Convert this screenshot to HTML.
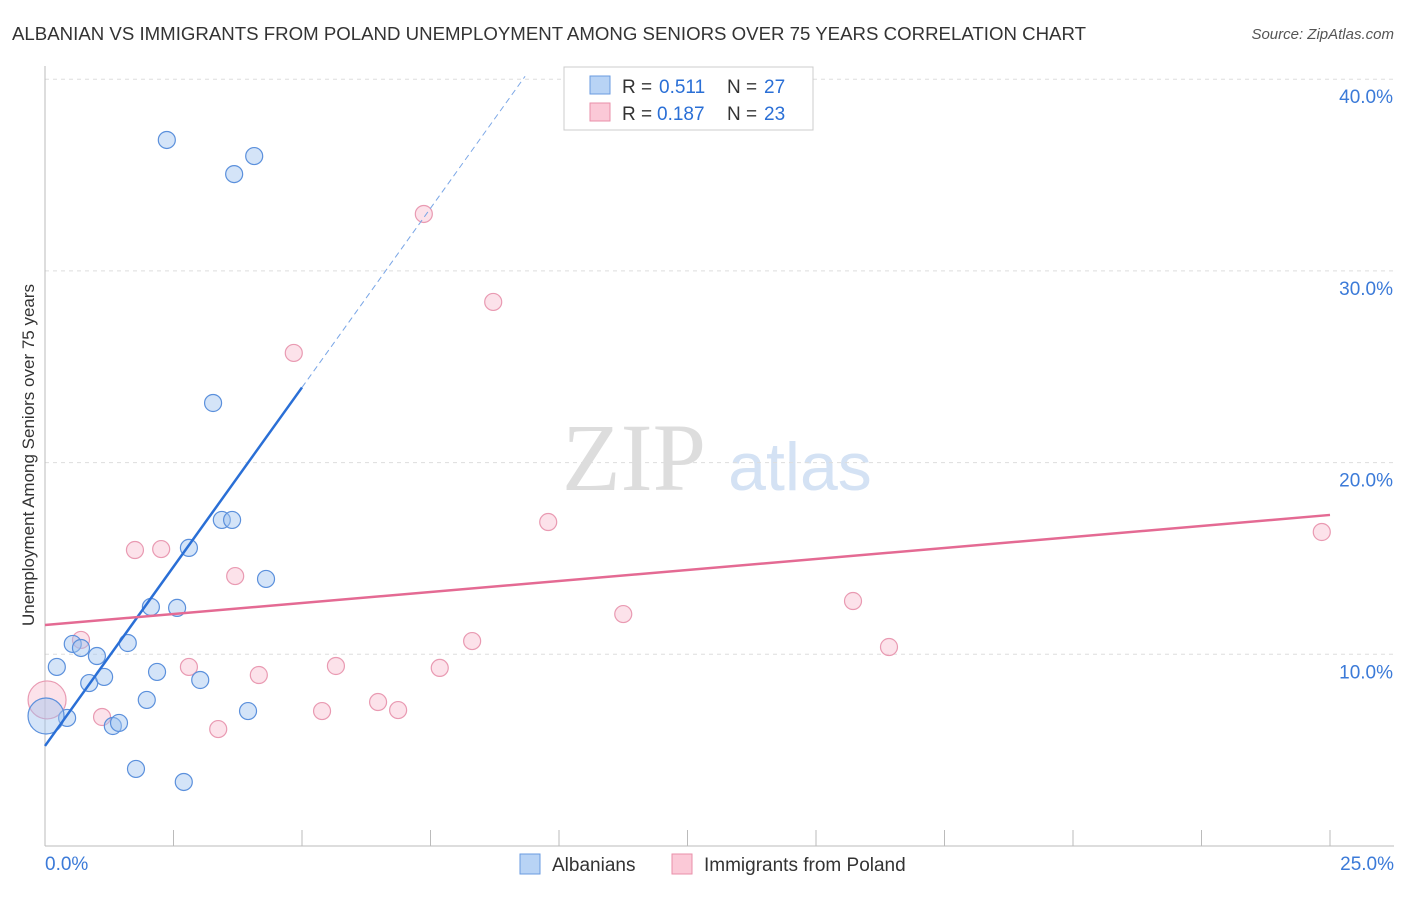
<!DOCTYPE html>
<html><head><meta charset="utf-8"><style>
body{margin:0;background:#fff;font-family:"Liberation Sans",sans-serif;}
</style></head><body>
<svg id="c" width="1406" height="892" xmlns="http://www.w3.org/2000/svg">
<text x="12" y="40" font-size="18" fill="#333" textLength="1074" lengthAdjust="spacingAndGlyphs">ALBANIAN VS IMMIGRANTS FROM POLAND UNEMPLOYMENT AMONG SENIORS OVER 75 YEARS CORRELATION CHART</text>
<text x="1394" y="39" font-size="15" fill="#555" font-style="italic" text-anchor="end">Source: ZipAtlas.com</text>
<text x="634" y="490" font-size="96" fill="#ddd" font-family="Liberation Serif,serif" text-anchor="middle">ZIP</text>
<text x="800" y="490" font-size="68" fill="#d4e2f4" text-anchor="middle">atlas</text>
<text transform="translate(34,455) rotate(-90)" font-size="17" fill="#333" text-anchor="middle">Unemployment Among Seniors over 75 years</text>
<g id="grid"></g><g id="marks"></g>
<g>
<rect x="564" y="67" width="249" height="63" fill="#fff" stroke="#ccc"/>
<rect x="590" y="76" width="20" height="18" fill="#b8d3f5" stroke="#6a9be0"/>
<rect x="590" y="103" width="20" height="18" fill="#fbc9d7" stroke="#ea8faa"/>
<text x="622" y="93" font-size="19" fill="#333">R =</text>
<text x="659" y="93" font-size="19" fill="#2a6fd6">0.511</text>
<text x="727" y="93" font-size="19" fill="#333">N =</text>
<text x="764" y="93" font-size="19" fill="#2a6fd6">27</text>
<text x="622" y="120" font-size="19" fill="#333">R =</text>
<text x="657" y="120" font-size="19" fill="#2a6fd6">0.187</text>
<text x="727" y="120" font-size="19" fill="#333">N =</text>
<text x="764" y="120" font-size="19" fill="#2a6fd6">23</text>
</g>
<g>
<rect x="520" y="854" width="20" height="20" fill="#b8d3f5" stroke="#6a9be0"/>
<text x="552" y="871" font-size="19" fill="#333">Albanians</text>
<rect x="672" y="854" width="20" height="20" fill="#fbc9d7" stroke="#ea8faa"/>
<text x="704" y="871" font-size="19" fill="#333">Immigrants from Poland</text>
</g>
</svg>
<script>
const blueX=[2.37,4.07,3.68,3.27,3.44,3.64,2.80,4.30,2.06,2.57,0.54,0.70,1.61,1.01,0.23,0.86,1.15,2.18,3.02,1.98,3.95,0.43,0.02,1.32,1.44,1.77,2.70];
const blueY=[36.83,35.99,35.05,23.11,17.01,17.01,15.55,13.93,12.47,12.42,10.54,10.33,10.59,9.91,9.34,8.50,8.82,9.08,8.66,7.62,7.04,6.68,6.78,6.26,6.42,4.02,3.34];
const pinkX=[7.37,8.72,4.84,9.79,24.84,1.75,2.26,3.70,11.25,15.72,0.70,8.31,16.42,2.80,5.66,7.68,4.16,0.04,1.11,5.39,6.48,6.87,3.37];
const pinkY=[32.97,28.38,25.72,16.90,16.38,15.44,15.49,14.08,12.10,12.78,10.75,10.69,10.38,9.34,9.39,9.29,8.92,7.62,6.73,7.04,7.51,7.09,6.10];
const yTicks=[10,20,30,40];
const yTickLabels=["10.0%","20.0%","30.0%","40.0%"];
const blueTrend=[5.22,3.74];
const pinkTrend=[11.53,0.2296];
const NS="http://www.w3.org/2000/svg";
const sx=v=>45+v/25*1285, sy=v=>846-v*19.17;
function mk(p,t,a){const e=document.createElementNS(NS,t);for(const k in a)e.setAttribute(k,a[k]);p.appendChild(e);return e;}
const g=document.getElementById('grid'), m=document.getElementById('marks');
yTicks.forEach((t,i)=>{
 const l=mk(g,'line',{x1:45,x2:1394,y1:sy(t),y2:sy(t),stroke:'#ddd','stroke-dasharray':'4 4'});
 
 
 const tx=mk(g,'text',{x:1393,y:sy(t)+24,'font-size':19,fill:'#3b7ad8','text-anchor':'end'});tx.textContent=yTickLabels[i];
 
 
});
mk(g,'line',{x1:45,x2:45,y1:66,y2:846,stroke:'#bbb'});
mk(g,'line',{x1:45,x2:1394,y1:846,y2:846,stroke:'#bbb'});
for(let i=0;i<=10;i++){const x=sx(i*2.5);mk(g,'line',{x1:x,x2:x,y1:830,y2:846,stroke:'#bbb'});}
const x0=mk(g,'text',{x:45,y:870,'font-size':19,fill:'#3b7ad8'});x0.textContent='0.0%';


const x1=mk(g,'text',{x:1394,y:870,'font-size':19,fill:'#3b7ad8','text-anchor':'end'});x1.textContent='25.0%';


function dot(x,y,r,f,s,n){const c=mk(m,'circle',{cx:sx(x),cy:sy(y),r:r,fill:f,stroke:s,'stroke-width':1.2});
 
 }
pinkX.forEach((x,i)=>dot(x,pinkY[i],i==17?19:8.5,'rgba(248,190,208,0.45)','#e99ab2','poland-point'));
blueX.forEach((x,i)=>dot(x,blueY[i],i==22?18:8.5,'rgba(160,196,240,0.45)','#5b90dc','albanian-point'));
const bl=mk(m,'line',{x1:sx(0),y1:sy(blueTrend[0]),x2:sx(5),y2:sy(blueTrend[0]+5*blueTrend[1]),stroke:'#2a6fd6','stroke-width':2.5});


const bd=mk(m,'line',{x1:sx(5),y1:sy(blueTrend[0]+5*blueTrend[1]),x2:sx(9.34),y2:sy(blueTrend[0]+9.34*blueTrend[1]),stroke:'#7aa6e6','stroke-width':1,'stroke-dasharray':'6 4'});


const pl=mk(m,'line',{x1:sx(0),y1:sy(pinkTrend[0]),x2:sx(25),y2:sy(pinkTrend[0]+25*pinkTrend[1]),stroke:'#e46a93','stroke-width':2.5});


</script>
</body></html>
